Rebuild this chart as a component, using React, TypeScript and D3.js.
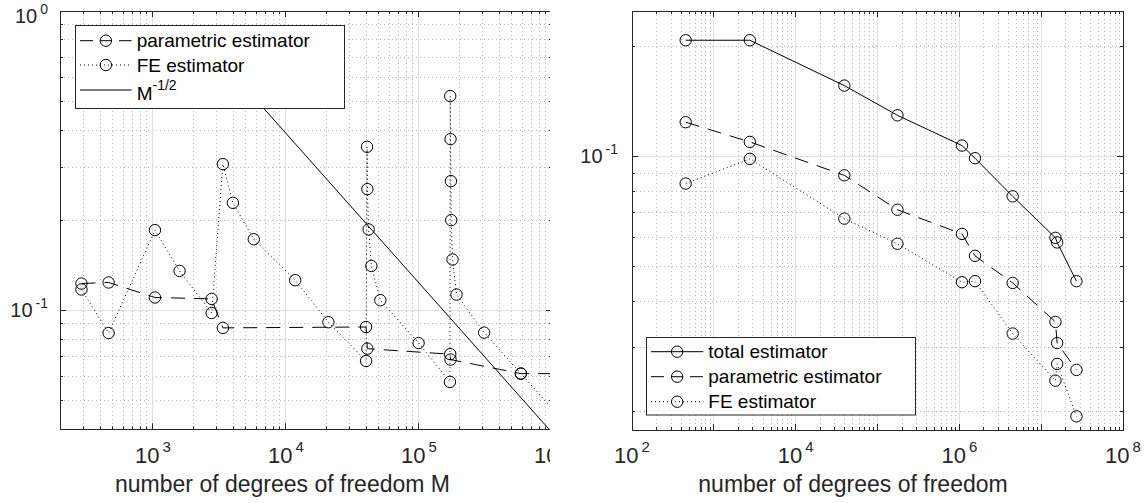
import React from "react";
import * as d3 from "d3";

const FONT = "'Liberation Sans', Arial, Helvetica, sans-serif";
const TXT = "#262626";

// ---------------- left panel data ----------------
const leftFeM = [290, 464, 1035, 1585, 2760, 3354, 3987, 5728, 11730, 20840, 40000, 40700, 40900, 41830, 43850, 51230, 99300, 170900, 171800, 172600, 173800, 174800, 178700, 191500, 309000, 583300, 1100000];
const leftFeV = [0.1173, 0.0839, 0.1852, 0.1353, 0.0979, 0.3078, 0.2285, 0.1727, 0.126, 0.0912, 0.0677, 0.3517, 0.2539, 0.1862, 0.1406, 0.108, 0.0777, 0.0576, 0.5197, 0.3731, 0.27, 0.2, 0.1477, 0.1128, 0.0842, 0.0614, 0.0448];
const leftParM = [290, 464, 1035, 2760, 3354, 40000, 40900, 171800, 172600, 583300, 2000000];
const leftParV = [0.1228, 0.1238, 0.1103, 0.1091, 0.0873, 0.0879, 0.0744, 0.0713, 0.0684, 0.0614, 0.0614];
const refConst = 39; // C * M^(-1/2)
const refM = [3000, 2000000];
const leftXTickExps = [3, 4, 5, 6];
const leftYTickExps = [0, -1];
const leftXLabel = "number of degrees of freedom M";
const leftLegendLabels = ["parametric estimator", "FE estimator", "M"];
const refExpText = "-1/2";

// ---------------- right panel data ----------------
const rightM = [453, 2754, 39330, 175200, 1077000, 1554000, 4484000, 14940000, 15680000, 27000000];
const totalV = [0.2079, 0.2079, 0.1562, 0.1295, 0.107, 0.0988, 0.0777, 0.0598, 0.0581, 0.0455];
const paramV = [0.124, 0.1095, 0.0887, 0.0714, 0.0613, 0.0534, 0.045, 0.0352, 0.0308, 0.026];
const feV = [0.0842, 0.0984, 0.0675, 0.0576, 0.0452, 0.0455, 0.0327, 0.0243, 0.027, 0.0194];
const rightXTickExps = [2, 4, 6, 8];
const rightYTickExps = [-1];
const rightXLabel = "number of degrees of freedom";
const rightLegendLabels = ["total estimator", "parametric estimator", "FE estimator"];

const DASH = "14,9";
const LEGEND_DASH = "13,7,12,7,13";
const DOT = "1,3";

const crisp = (v: number) => Math.round(v - 0.5) + 0.5;

function logTicks(lo: number, hi: number) {
  const majors: number[] = [];
  const minors: number[] = [];
  for (let d = Math.floor(Math.log10(lo)); d <= Math.ceil(Math.log10(hi)); d++) {
    for (let k = 1; k <= 9; k++) {
      const v = k * Math.pow(10, d);
      if (v < lo * 0.9999 || v > hi * 1.0001) continue;
      (k === 1 ? majors : minors).push(v);
    }
  }
  return { majors, minors };
}

function Grid({ x, y }: any) {
  const [xa, xb] = x.range();
  const [yb, ya] = y.range();
  const xt = logTicks(x.domain()[0], x.domain()[1]);
  const yt = logTicks(y.domain()[0], y.domain()[1]);
  return (
    <g>
      {xt.minors.map((v, i) => (
        <line key={"xm" + i} x1={crisp(x(v))} x2={crisp(x(v))} y1={ya} y2={yb} stroke="#bcbcbc" strokeDasharray={DOT} />
      ))}
      {yt.minors.map((v, i) => (
        <line key={"ym" + i} y1={crisp(y(v))} y2={crisp(y(v))} x1={xa} x2={xb} stroke="#bcbcbc" strokeDasharray={DOT} />
      ))}
      {xt.majors.map((v, i) => (
        <line key={"xM" + i} x1={crisp(x(v))} x2={crisp(x(v))} y1={ya} y2={yb} stroke="#e0e0e0" />
      ))}
      {yt.majors.map((v, i) => (
        <line key={"yM" + i} y1={crisp(y(v))} y2={crisp(y(v))} x1={xa} x2={xb} stroke="#e0e0e0" />
      ))}
    </g>
  );
}

function Frame({ x, y }: any) {
  const [xa, xb] = x.range();
  const [yb, ya] = y.range();
  const xt = logTicks(x.domain()[0], x.domain()[1]);
  const yt = logTicks(y.domain()[0], y.domain()[1]);
  const items: any[] = [];
  const addX = (v: number, len: number, k: string) => {
    const px = crisp(x(v));
    items.push(<line key={"bx" + k} x1={px} x2={px} y1={yb} y2={yb - len} stroke={TXT} />);
    items.push(<line key={"tx" + k} x1={px} x2={px} y1={ya} y2={ya + len} stroke={TXT} />);
  };
  const addY = (v: number, len: number, k: string) => {
    const py = crisp(y(v));
    items.push(<line key={"ly" + k} y1={py} y2={py} x1={xa} x2={xa + len} stroke={TXT} />);
    items.push(<line key={"ry" + k} y1={py} y2={py} x1={xb} x2={xb - len} stroke={TXT} />);
  };
  xt.majors.forEach((v, i) => addX(v, 6, "M" + i));
  xt.minors.forEach((v, i) => addX(v, 3, "m" + i));
  yt.majors.forEach((v, i) => addY(v, 6, "M" + i));
  yt.minors.forEach((v, i) => addY(v, 3, "m" + i));
  return (
    <g>
      {items}
      <rect x={crisp(xa)} y={crisp(ya)} width={Math.round(xb - xa)} height={Math.round(yb - ya)} fill="none" stroke={TXT} />
    </g>
  );
}

function Pow10({ x, y, exp, anchor, fs, efs, edy }: any) {
  return (
    <text x={x} y={y} textAnchor={anchor} fill={TXT} fontSize={fs}>
      <tspan>10</tspan>
      <tspan dx={3} dy={edy} fontSize={efs}>{String(exp)}</tspan>
    </text>
  );
}

function Series({ x, y, m, v, dash, clip }: any) {
  const pts: [number, number][] = m.map((mm: number, i: number) => [mm, v[i]]);
  const line = d3.line<[number, number]>().x((d) => x(d[0])).y((d) => y(d[1]));
  return (
    <g clipPath={`url(#${clip})`}>
      <path d={line(pts) || ""} fill="none" stroke="#000" strokeWidth={1} strokeDasharray={dash || undefined} />
      {pts.map((p, i) => (
        <circle key={i} cx={x(p[0])} cy={y(p[1])} r={5.7} fill="none" stroke="#000" strokeWidth={1} />
      ))}
    </g>
  );
}

function LegendRow({ x0, x1, y, dash, marker, children, ty }: any) {
  const mx = (x0 + x1) / 2;
  return (
    <g>
      <line x1={x0} x2={x1} y1={y} y2={y} stroke="#000" strokeDasharray={dash || undefined} />
      {marker && <circle cx={mx} cy={y} r={5.7} fill="none" stroke="#000" />}
      <text x={x1 + 5} y={ty} fontSize={19} fill="#000">{children}</text>
    </g>
  );
}

export default function App() {
  const xL = d3.scaleLog().domain([200, 1e6]).range([60, 552]);
  const yL = d3.scaleLog().domain([0.04, 1]).range([429.3, 11]);
  const xR = d3.scaleLog().domain([1e2, 1e8]).range([632, 1123]);
  const yR = d3.scaleLog().domain([0.0178, 0.25]).range([430, 11]);

  const refV = refM.map((m) => refConst / Math.sqrt(m));

  return (
    <svg width={1146} height={503} style={{ position: "absolute", left: 0, top: 0, background: "#fff" }} fontFamily={FONT}>
      <defs>
        <clipPath id="panelL">
          <rect x={0} y={0} width={550} height={503} />
        </clipPath>
        <clipPath id="axL">
          <rect x={60} y={11} width={492} height={418.3} />
        </clipPath>
        <clipPath id="axR">
          <rect x={632} y={11} width={491} height={419} />
        </clipPath>
      </defs>
      <rect x={0} y={0} width={1146} height={503} fill="#fff" />

      {/* ---------- left panel ---------- */}
      <g clipPath="url(#panelL)">
        <rect x={60} y={11} width={492} height={418.3} fill="#fff" />
        <Grid x={xL} y={yL} />
        <g clipPath="url(#axL)">
          <path
            d={d3.line<number>().x((m) => xL(m)).y((m, i) => yL(refV[i]))(refM) || ""}
            fill="none"
            stroke="#000"
          />
        </g>
        <Series x={xL} y={yL} m={leftParM} v={leftParV} dash={DASH} clip="axL" />
        <Series x={xL} y={yL} m={leftFeM} v={leftFeV} dash={DOT} clip="axL" />
        <Frame x={xL} y={yL} />
        {leftXTickExps.map((e) => (
          <Pow10 key={"lx" + e} x={xL(Math.pow(10, e))} y={463} exp={e} anchor="middle" fs={22} efs={15} edy={-11} />
        ))}
        {leftYTickExps.map((e) => (
          <Pow10 key={"ly" + e} x={48} y={Math.max(yL(Math.pow(10, e)) + 6.5, 22.7)} exp={e} anchor="end" fs={20} efs={14} edy={-9} />
        ))}
        <text x={282.5} y={492} textAnchor="middle" fontSize={23} fill={TXT}>{leftXLabel}</text>

        {/* legend */}
        <rect x={75.5} y={25.5} width={269} height={83} fill="#fff" stroke={TXT} />
        <LegendRow x0={80} x1={131.7} y={40.7} ty={47.3} dash={LEGEND_DASH} marker>{leftLegendLabels[0]}</LegendRow>
        <LegendRow x0={80} x1={131.7} y={65} ty={71.7} dash={DOT} marker>{leftLegendLabels[1]}</LegendRow>
        <LegendRow x0={80} x1={131.7} y={90} ty={100} dash={null} marker={false}>
          <tspan>{leftLegendLabels[2]}</tspan>
          <tspan dy={-10} fontSize={14}>{refExpText}</tspan>
        </LegendRow>
      </g>

      {/* ---------- right panel ---------- */}
      <g>
        <Grid x={xR} y={yR} />
        <Series x={xR} y={yR} m={rightM} v={totalV} dash={null} clip="axR" />
        <Series x={xR} y={yR} m={rightM} v={paramV} dash={DASH} clip="axR" />
        <Series x={xR} y={yR} m={rightM} v={feV} dash={DOT} clip="axR" />
        <Frame x={xR} y={yR} />
        {rightXTickExps.map((e) => (
          <Pow10 key={"rx" + e} x={xR(Math.pow(10, e))} y={463} exp={e} anchor="middle" fs={22} efs={15} edy={-11} />
        ))}
        {rightYTickExps.map((e) => (
          <Pow10 key={"ry" + e} x={618} y={yR(Math.pow(10, e)) + 7} exp={e} anchor="end" fs={20} efs={14} edy={-9} />
        ))}
        <text x={853} y={492} textAnchor="middle" fontSize={23} fill={TXT}>{rightXLabel}</text>

        <rect x={646.5} y={337.5} width={269} height={77.5} fill="#fff" stroke={TXT} />
        <LegendRow x0={651} x1={703.3} y={351.7} ty={358.3} dash={null} marker>{rightLegendLabels[0]}</LegendRow>
        <LegendRow x0={651} x1={703.3} y={376.7} ty={383.3} dash={LEGEND_DASH} marker>{rightLegendLabels[1]}</LegendRow>
        <LegendRow x0={651} x1={703.3} y={401.7} ty={408.3} dash={DOT} marker>{rightLegendLabels[2]}</LegendRow>
      </g>
    </svg>
  );
}
